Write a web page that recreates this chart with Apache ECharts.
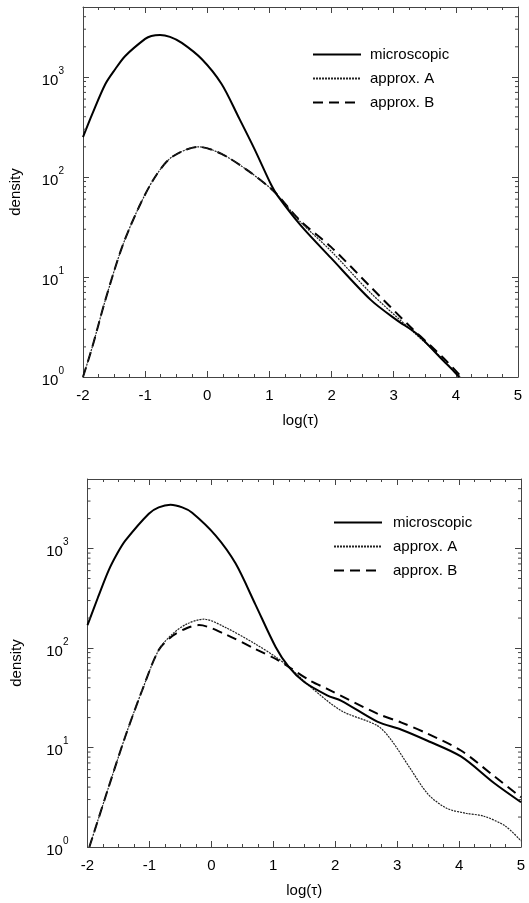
<!DOCTYPE html>
<html>
<head>
<meta charset="utf-8">
<script src="https://cdn.jsdelivr.net/npm/echarts@6/dist/echarts.min.js"></script>
<style>
  html, body { margin: 0; padding: 0; background: #fff; }
  #chart { width: 529px; height: 903px; }
</style>
</head>
<body>
<div id="chart"></div>
<script>
// axis ranges and ticks
const xMin = -2, xMax = 5;
const yMin = 1, yMax = 5000;
const minorLogTicks = [2, 3, 4, 5, 6, 7, 8, 9, 20, 30, 40, 50, 60, 70, 80, 90,
  200, 300, 400, 500, 600, 700, 800, 900, 2000, 3000, 4000];
const seriesNames = ['microscopic', 'approx. A', 'approx. B'];

// top panel
const topMicroX = [-2, -1.85, -1.64, -1.48, -1.32, -1.0, -0.9, -0.76, -0.6, -0.41, -0.09, 0.23, 0.5, 0.76, 1.03, 1.13, 1.5, 1.99, 2.63, 3.05, 3.37, 3.8, 3.95, 4.05];
const topMicroY = [250, 427, 850, 1200, 1620, 2400, 2570, 2630, 2515, 2190, 1510, 850, 400, 190, 83, 65, 33, 15.5, 5.9, 3.7, 2.7, 1.45, 1.17, 1.0];
const topAX = [-2, -1.85, -1.64, -1.37, -1.10, -0.84, -0.57, -0.14, 0.23, 0.66, 1.03, 1.13, 1.5, 1.99, 2.63, 3.3, 3.6, 3.8, 4.07];
const topAY = [1, 2, 5.9, 20, 50, 100, 158, 200, 170, 115, 76, 66, 35.5, 18.2, 6.92, 2.88, 1.95, 1.48, 1.0];
const topBX = [-2, -1.85, -1.64, -1.37, -1.10, -0.84, -0.57, -0.14, 0.23, 0.66, 1.03, 1.13, 1.5, 1.99, 2.63, 3.27, 3.6, 3.8, 4.0, 4.09];
const topBY = [1, 2, 5.9, 20, 50, 100, 158, 200, 170, 115, 76, 66, 36.3, 20, 7.94, 3.16, 2.04, 1.55, 1.15, 1.0];

// bottom panel
const botMicroX = [-2, -1.83, -1.66, -1.52, -1.39, -1.01, -0.85, -0.66, -0.47, -0.31, 0.07, 0.39, 0.71, 1.04, 1.25, 1.5, 1.87, 2.1, 2.68, 3.07, 3.49, 4.03, 4.57, 5];
const botMicroY = [170, 324, 600, 890, 1200, 2240, 2590, 2750, 2590, 2290, 1350, 710, 275, 102, 64.6, 45.5, 33.5, 29.5, 18.2, 15.1, 11.7, 8.13, 4.37, 2.82];
const botAX = [-1.97, -1.66, -1.39, -1.12, -0.85, -0.63, -0.4, -0.12, 0.22, 0.71, 1.04, 1.25, 1.6, 2.1, 2.68, 2.9, 3.2, 3.5, 3.8, 4.1, 4.4, 4.75, 5];
const botAY = [1, 3.98, 12.9, 37.2, 95.5, 138, 174, 195, 162, 110, 81.3, 64.6, 40.7, 23.4, 16.6, 12.0, 6.31, 3.39, 2.45, 2.19, 2.04, 1.62, 1.15];
const botBX = [-1.97, -1.66, -1.39, -1.12, -0.85, -0.63, -0.4, -0.2, 0.22, 0.71, 1.04, 1.25, 1.6, 1.87, 2.68, 3.07, 3.49, 4.03, 4.57, 5];
const botBY = [1, 3.98, 12.9, 37.2, 95.5, 132, 158, 170, 138, 97.7, 77.6, 64.6, 46.8, 38.9, 21.9, 17.8, 13.8, 9.33, 5.13, 3.16];

const font = '"Liberation Sans", Arial, Helvetica, sans-serif';
const axisColor = '#444';

const zip = (xs, ys) => xs.map((x, i) => [x, ys[i]]);

function xAxes(gridIndex) {
  const base = {
    gridIndex, type: 'value', min: xMin, max: xMax, interval: 1,
    axisLine: { show: true, onZero: false, lineStyle: { color: axisColor, width: 1 } },
    axisTick: { show: true, inside: true, length: 6, lineStyle: { color: axisColor } },
    minorTick: { show: true, splitNumber: 4, length: 3, lineStyle: { color: axisColor } },
    splitLine: { show: false }
  };
  return [
    Object.assign({}, base, {
      position: 'bottom',
      name: 'log(τ)', nameLocation: 'middle', nameGap: 36,
      nameTextStyle: { fontFamily: font, fontSize: 15, color: '#000' },
      axisLabel: { fontFamily: font, fontSize: 15, color: '#000', margin: 11 }
    }),
    Object.assign({}, base, { position: 'top', axisLabel: { show: false } })
  ];
}

function yAxes(gridIndex, gap) {
  const base = {
    gridIndex, type: 'log', logBase: 10, min: yMin, max: yMax,
    axisLine: { show: true, onZero: false, lineStyle: { color: axisColor, width: 1 } },
    axisTick: { show: true, inside: true, length: 6, lineStyle: { color: axisColor } },
    splitLine: { show: false }
  };
  return [
    Object.assign({}, base, {
      position: 'left',
      name: 'density', nameLocation: 'middle', nameGap: gap, nameRotate: 90,
      nameTextStyle: { fontFamily: font, fontSize: 15, color: '#000' },
      axisLabel: {
        margin: 19,
        showMaxLabel: false,
        formatter: v => {
          const n = Math.log10(v);
          if (Math.abs(n - Math.round(n)) > 1e-6) return '';
          return '{b|10}{s|' + Math.round(n) + '}';
        },
        rich: {
          b: { fontFamily: font, fontSize: 15, color: '#000', lineHeight: 22, verticalAlign: 'bottom' },
          s: { fontFamily: font, fontSize: 10, color: '#000', lineHeight: 22, verticalAlign: 'top' }
        }
      }
    }),
    Object.assign({}, base, { position: 'right', axisLabel: { show: false } })
  ];
}

function curves(gridIndex, micro, a, b) {
  const common = {
    type: 'line', xAxisIndex: gridIndex * 2, yAxisIndex: gridIndex * 2,
    showSymbol: false, symbol: 'none', smooth: 0.3, silent: true, animation: false
  };
  return [
    Object.assign({}, common, { name: seriesNames[0], data: micro, z: 4,
      lineStyle: { color: '#000', width: 2, type: 'solid' }, itemStyle: { color: '#000' } }),
    Object.assign({}, common, { name: seriesNames[1], data: a, z: 3,
      lineStyle: { color: '#222', width: 1.2, type: [2, 1] }, itemStyle: { color: '#222' } }),
    Object.assign({}, common, { name: seriesNames[2], data: b, z: 2,
      lineStyle: { color: '#000', width: 2, type: [10, 6] }, itemStyle: { color: '#000' } })
  ];
}

// minor ticks of the log axes, on the left and right frame edges
function logMinorTicks(gridIndex) {
  return {
    type: 'custom', xAxisIndex: gridIndex * 2, yAxisIndex: gridIndex * 2,
    silent: true, animation: false, clip: false, z: 5,
    data: minorLogTicks.map(v => [xMin, v]),
    renderItem: (params, api) => {
      const cs = params.coordSys;
      const y = api.coord([api.value(0), api.value(1)])[1];
      const style = { stroke: axisColor, lineWidth: 1 };
      return {
        type: 'group',
        children: [
          { type: 'line', shape: { x1: cs.x, y1: y, x2: cs.x + 3, y2: y }, style },
          { type: 'line', shape: { x1: cs.x + cs.width - 3, y1: y, x2: cs.x + cs.width, y2: y }, style }
        ]
      };
    }
  };
}

function legend(left, top, textGap) {
  return {
    data: seriesNames, orient: 'vertical', left, top,
    itemWidth: 48, itemHeight: 14, itemGap: 9,
    selectedMode: false,
    itemStyle: { opacity: 0 },
    textStyle: { fontFamily: font, fontSize: 15, color: '#000', padding: [0, 0, 0, textGap] }
  };
}

const chart = echarts.init(document.getElementById('chart'), null, { renderer: 'canvas' });
chart.setOption({
  animation: false,
  backgroundColor: '#fff',
  grid: [
    { left: 80.5, top: 7, width: 437.5, height: 370 },
    { left: 87.5, top: 479, width: 433.5, height: 368 }
  ],
  legend: [legend(307, 42, 4), legend(328, 510, 6)],
  xAxis: xAxes(0).concat(xAxes(1)),
  yAxis: yAxes(0, 60).concat(yAxes(1, 63)),
  series: [].concat(
    curves(0, zip(topMicroX, topMicroY), zip(topAX, topAY), zip(topBX, topBY)),
    curves(1, zip(botMicroX, botMicroY), zip(botAX, botAY), zip(botBX, botBY)),
    [logMinorTicks(0), logMinorTicks(1)]
  )
});
</script>
</body>
</html>
